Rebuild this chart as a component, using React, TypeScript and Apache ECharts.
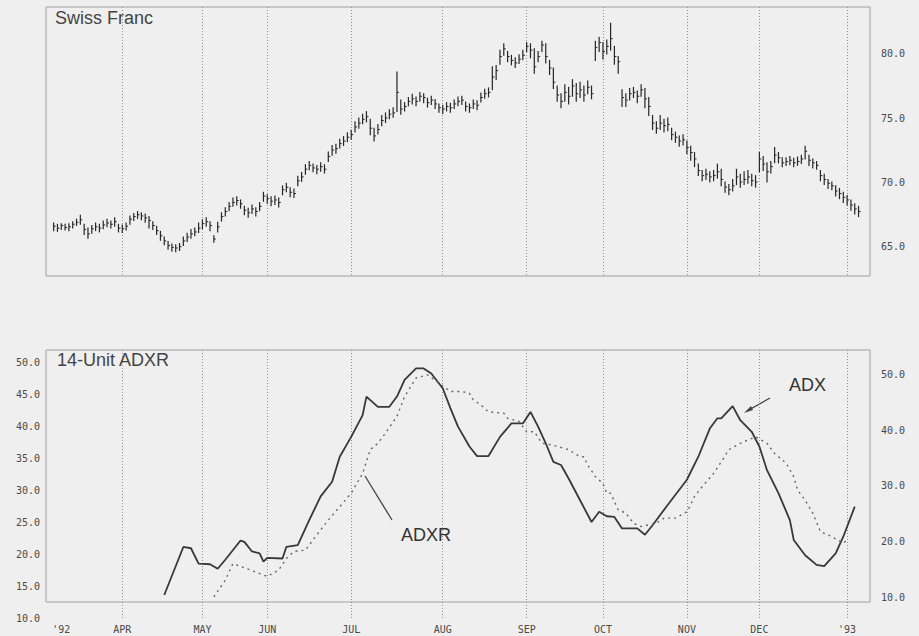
import React, { useEffect, useRef } from 'react';
import * as echarts from 'echarts';

// ---- x axis: trading days (index 0..216) ----
const N_DAYS = 217;
const dayCategories: string[] = Array.from({ length: N_DAYS }, (_, i) => String(i));
const monthMarks = [
  { idx: 4, label: "'92", line: false },
  { idx: 20, label: 'APR', line: true },
  { idx: 41, label: 'MAY', line: true },
  { idx: 58, label: 'JUN', line: true },
  { idx: 80, label: 'JUL', line: true },
  { idx: 104, label: 'AUG', line: true },
  { idx: 126, label: 'SEP', line: true },
  { idx: 146, label: 'OCT', line: true },
  { idx: 168, label: 'NOV', line: true },
  { idx: 187, label: 'DEC', line: true },
  { idx: 210, label: "'93", line: true },
];

// ---- Swiss Franc daily bars (first bar at day index 2) ----
const FIRST_BAR = 2;
const highs = [
  66.80, 66.70, 66.75, 66.70, 66.75, 66.90, 67.10, 67.40, 66.70, 66.40,
  66.60, 66.80, 66.70, 66.95, 67.10, 66.95, 67.20, 66.70, 66.65, 66.80,
  67.35, 67.55, 67.70, 67.60, 67.50, 67.30, 66.90, 66.55, 66.15, 65.70,
  65.35, 65.15, 65.10, 65.20, 65.70, 66.00, 66.30, 66.40, 66.80, 67.05,
  67.20, 66.90, 65.80, 66.85, 67.60, 68.00, 68.40, 68.75, 68.85, 68.60,
  68.10, 67.95, 68.20, 68.00, 68.40, 69.20, 69.00, 68.85, 68.90, 68.75,
  69.70, 69.90, 69.55, 69.45, 70.45, 70.75, 71.35, 71.60, 71.40, 71.30,
  71.50, 71.35, 72.35, 72.85, 72.95, 73.35, 73.55, 73.85, 74.05, 74.70,
  75.00, 75.30, 75.50, 74.90, 74.20, 74.50, 75.20, 75.40, 75.65, 75.80,
  78.60, 76.40, 76.20, 76.60, 76.85, 76.65, 77.00, 76.90, 76.55, 76.70,
  76.45, 76.10, 76.00, 76.20, 76.15, 76.40, 76.65, 76.70, 76.25, 76.10,
  76.40, 76.35, 76.95, 77.25, 77.35, 79.00, 79.10, 80.30, 80.80, 80.20,
  79.90, 79.70, 79.95, 80.30, 80.90, 80.80, 80.40, 80.20, 81.00, 80.80,
  79.50, 78.90, 77.50, 76.90, 77.60, 77.40, 78.00, 77.70, 77.80, 77.50,
  77.90, 77.50, 81.00, 81.30, 80.90, 81.10, 82.40, 80.60, 79.80, 77.20,
  76.90, 77.30, 77.40, 77.10, 77.60, 77.30, 76.60, 75.20, 74.70, 75.20,
  74.90, 75.00, 74.20, 73.90, 73.60, 73.70, 73.20, 72.80, 72.30, 71.40,
  70.90, 71.00, 70.80, 70.90, 71.40, 71.00, 70.00, 69.80, 70.20, 71.00,
  70.60, 70.80, 70.90, 70.60, 70.50, 72.30, 72.00, 71.50, 71.60, 72.70,
  72.30, 71.90, 71.90, 72.00, 71.85, 71.95, 72.10, 72.80, 72.10, 71.80,
  71.60, 70.90, 70.60, 70.20, 70.00, 69.70, 69.50, 69.20, 68.95, 68.60,
  68.30, 68.10,
];
const lows = [
  66.20, 66.15, 66.30, 66.25, 66.20, 66.40, 66.60, 66.70, 65.90, 65.60,
  66.00, 66.20, 66.10, 66.35, 66.50, 66.40, 66.55, 66.10, 66.05, 66.25,
  66.70, 67.00, 67.15, 67.05, 66.85, 66.40, 66.30, 65.90, 65.45, 65.10,
  64.75, 64.60, 64.55, 64.65, 65.05, 65.35, 65.60, 65.80, 66.05, 66.35,
  66.55, 66.20, 65.30, 66.10, 66.95, 67.35, 67.75, 68.10, 68.20, 67.95,
  67.45, 67.25, 67.55, 67.35, 67.75, 68.50, 68.35, 68.15, 68.25, 68.05,
  69.00, 69.25, 68.85, 68.80, 69.70, 70.05, 70.60, 70.95, 70.80, 70.65,
  70.85, 70.70, 71.60, 72.10, 72.25, 72.65, 72.85, 73.15, 73.35, 73.90,
  74.20, 74.55, 74.70, 73.70, 73.20, 73.75, 74.40, 74.65, 74.95, 75.05,
  75.50, 75.30, 75.55, 75.95, 76.10, 75.95, 76.30, 76.20, 75.85, 76.05,
  75.75, 75.45, 75.35, 75.55, 75.45, 75.75, 75.95, 76.05, 75.55, 75.45,
  75.75, 75.65, 76.25, 76.55, 76.65, 77.20, 78.00, 79.20, 79.90, 79.40,
  79.15, 78.95, 79.25, 79.55, 80.20, 79.70, 78.50, 79.40, 80.20, 79.30,
  78.40, 77.30, 76.30, 75.80, 76.30, 76.10, 76.70, 76.30, 76.60, 76.30,
  76.90, 76.50, 79.50, 80.20, 79.60, 80.00, 80.30, 79.20, 78.50, 75.90,
  75.90, 76.40, 76.60, 76.20, 76.70, 75.80, 75.20, 74.10, 73.80, 74.10,
  73.90, 74.00, 73.30, 73.10, 72.80, 72.90, 72.20, 71.70, 71.20, 70.50,
  70.10, 70.20, 70.00, 70.10, 70.30, 69.70, 69.20, 69.00, 69.30, 69.80,
  69.60, 69.80, 69.90, 69.70, 69.60, 70.80, 70.90, 70.00, 70.70, 71.50,
  71.50, 71.20, 71.30, 71.35, 71.20, 71.30, 71.45, 71.80, 71.30, 71.10,
  71.00, 70.10, 69.80, 69.50, 69.40, 68.90, 68.70, 68.40, 68.20, 67.80,
  67.50, 67.30,
];
const closes = [
  66.55, 66.40, 66.60, 66.45, 66.50, 66.70, 66.85, 67.05, 66.30, 65.95,
  66.35, 66.50, 66.40, 66.65, 66.80, 66.70, 66.90, 66.40, 66.35, 66.55,
  67.10, 67.30, 67.45, 67.35, 67.20, 67.00, 66.60, 66.20, 65.80, 65.40,
  65.05, 64.90, 64.85, 64.95, 65.40, 65.70, 65.95, 66.10, 66.40, 66.75,
  66.90, 66.60, 65.55, 66.50, 67.30, 67.70, 68.10, 68.40, 68.55, 68.30,
  67.80, 67.60, 67.90, 67.70, 68.10, 68.90, 68.70, 68.50, 68.60, 68.40,
  69.40, 69.60, 69.20, 69.10, 70.10, 70.40, 71.00, 71.30, 71.10, 71.00,
  71.20, 71.00, 72.00, 72.50, 72.60, 73.00, 73.20, 73.50, 73.70, 74.30,
  74.60, 74.90, 75.10, 74.20, 73.60, 74.10, 74.80, 75.00, 75.30, 75.40,
  77.00, 75.70, 75.90, 76.30, 76.50, 76.30, 76.70, 76.60, 76.20, 76.40,
  76.10, 75.80, 75.70, 75.90, 75.80, 76.10, 76.30, 76.40, 75.90, 75.80,
  76.10, 76.00, 76.60, 76.90, 77.00, 78.20, 78.70, 79.80, 80.40, 79.80,
  79.50, 79.30, 79.60, 79.90, 80.60, 80.30, 79.00, 79.80, 80.70, 79.80,
  78.90, 77.80, 76.80, 76.30, 77.00, 76.70, 77.50, 76.90, 77.20, 76.80,
  77.40, 76.90, 80.50, 80.90, 80.20, 80.60, 81.20, 79.80, 79.40, 76.60,
  76.40, 76.90, 77.00, 76.70, 77.20, 76.50, 75.90, 74.60, 74.20, 74.60,
  74.40, 74.50, 73.70, 73.50, 73.20, 73.30, 72.70, 72.30, 71.80, 70.90,
  70.50, 70.60, 70.40, 70.50, 70.80, 70.20, 69.60, 69.40, 69.70, 70.40,
  70.00, 70.20, 70.40, 70.10, 70.00, 71.80, 71.40, 70.80, 71.20, 72.10,
  71.90, 71.50, 71.60, 71.70, 71.50, 71.60, 71.80, 72.40, 71.70, 71.50,
  71.30, 70.50, 70.20, 69.90, 69.70, 69.30, 69.10, 68.80, 68.60, 68.20,
  67.90, 67.70,
];
const priceTicks = [65, 70, 75, 80];

// ---- 14-unit ADX / ADXR: [day index, value] ----
const adx: [number, number][] = [
  [31, 13.6], [36, 21.1], [38, 20.9], [40, 18.5], [43, 18.4], [45, 17.7], [47, 19.1],
  [51, 22.1], [52, 21.9], [54, 20.4], [56, 20.1], [57, 18.8], [58, 19.4], [62, 19.3],
  [63, 21.1], [66, 21.4], [69, 25.3], [72, 29.0], [75, 31.3], [77, 35.2], [80, 38.3],
  [83, 41.7], [84, 44.6], [87, 43.0], [90, 43.0], [92, 44.6], [94, 47.2], [97, 49.0],
  [99, 49.0], [101, 48.2], [104, 45.9], [106, 42.8], [108, 39.9], [111, 36.8],
  [113, 35.3], [116, 35.3], [119, 38.3], [122, 40.4], [125, 40.4], [127, 42.2],
  [129, 39.9], [131, 37.3], [133, 34.4], [135, 33.9], [137, 31.8], [140, 28.4],
  [143, 25.0], [145, 26.6], [147, 25.9], [149, 25.8], [151, 24.0], [155, 24.0],
  [157, 23.0], [159, 24.5], [163, 27.7], [168, 31.6], [171, 35.2], [174, 39.6],
  [176, 41.2], [177, 41.2], [180, 43.1], [182, 40.9], [185, 39.1], [187, 36.8],
  [189, 33.1], [192, 29.5], [195, 25.3], [196, 22.2], [199, 19.8], [202, 18.3],
  [204, 18.1], [207, 20.1], [209, 22.7], [212, 27.4],
];
const adxr: [number, number][] = [
  [44, 13.3], [47, 15.9], [49, 18.5], [54, 17.4], [58, 16.5], [61, 17.5], [63, 19.3],
  [65, 20.4], [68, 20.6], [71, 23.0], [74, 25.3], [77, 27.4], [80, 29.5], [83, 32.6],
  [85, 36.3], [87, 37.3], [89, 38.9], [92, 41.5], [94, 44.6], [97, 47.5], [100, 48.0],
  [103, 46.7], [106, 45.4], [109, 45.4], [111, 45.1], [112, 44.1], [114, 43.3],
  [116, 42.2], [120, 42.0], [121, 41.2], [124, 40.7], [126, 39.1], [128, 39.1],
  [130, 37.3], [133, 37.0], [137, 36.3], [140, 35.2], [141, 35.2], [142, 33.9],
  [144, 32.1], [146, 31.0], [147, 29.5], [148, 29.5], [150, 26.9], [152, 26.4],
  [154, 24.8], [156, 24.3], [160, 24.8], [162, 25.6], [165, 25.6], [168, 26.6],
  [169, 27.7], [170, 29.0], [172, 30.5], [175, 32.6], [177, 34.4], [179, 36.3],
  [182, 37.3], [184, 37.8], [186, 38.3], [189, 37.3], [191, 35.7], [194, 34.2],
  [196, 32.1], [197, 30.0], [199, 28.4], [201, 26.4], [203, 23.5], [206, 22.7],
  [209, 21.7], [210, 22.2],
];

const labelMap = new Map<number, string>(monthMarks.map((m) => [m.idx, m.label]));
const gridLineSet = new Set<number>(monthMarks.filter((m) => m.line).map((m) => m.idx));

const MONO = "'DejaVu Sans Mono', monospace";
const SANS = "'Liberation Sans', Arial, sans-serif";

export default function App() {
  const ref = useRef<HTMLDivElement>(null);
  useEffect(() => {
    if (!ref.current) return;
    const chart = echarts.init(ref.current, undefined, { renderer: 'svg' });
    const bars = closes.map((c, k) => [FIRST_BAR + k, highs[k], lows[k], c]);
    const splitStyle = { color: '#8e8e8e', type: [1, 2] as number[], width: 1 };
    const axisLabelStyle = { fontFamily: MONO, fontSize: 10, color: '#4a4a4a' };

    chart.setOption({
      animation: false,
      backgroundColor: '#efefef',
      title: [
        { text: 'Swiss Franc', left: 55, top: 9, padding: 0,
          textStyle: { fontFamily: SANS, fontSize: 18, fontWeight: 'normal', color: '#444' } },
        { text: '14-Unit ADXR', left: 57, top: 351, padding: 0,
          textStyle: { fontFamily: SANS, fontSize: 18, fontWeight: 'normal', color: '#444' } },
      ],
      grid: [
        { left: 46, top: 7, width: 824, height: 269, show: true, borderColor: '#a0a0a0', borderWidth: 1 },
        { left: 46, top: 350, width: 824, height: 268, show: false },
        { left: 46, top: 350, width: 824, height: 252, show: true, borderColor: '#a0a0a0', borderWidth: 1 },
      ],
      xAxis: [
        {
          gridIndex: 0, type: 'category', data: dayCategories, boundaryGap: false,
          axisLine: { show: false }, axisTick: { show: false }, axisLabel: { show: false },
          splitLine: { show: true, interval: (i: number) => gridLineSet.has(i), lineStyle: splitStyle },
        },
        {
          gridIndex: 1, type: 'category', data: dayCategories, boundaryGap: false,
          axisLine: { show: false }, axisTick: { show: false },
          axisLabel: {
            show: true, margin: 6, ...axisLabelStyle,
            interval: (i: number) => labelMap.has(i),
            formatter: (v: string) => labelMap.get(Number(v)) ?? '',
          },
          splitLine: { show: true, interval: (i: number) => gridLineSet.has(i), lineStyle: splitStyle },
        },
        { gridIndex: 2, type: 'value', show: false, min: 0, max: 1 },
      ],
      yAxis: [
        {
          gridIndex: 0, type: 'value', position: 'right', min: 62.66, max: 83.67, scale: true,
          axisLine: { show: false }, axisTick: { show: false }, splitLine: { show: false },
          axisLabel: {
            margin: 11, ...axisLabelStyle, showMinLabel: false, showMaxLabel: false,
            formatter: (v: number) => (priceTicks.includes(Math.round(v * 100) / 100) ? v.toFixed(1) : ''),
          },
        },
        {
          gridIndex: 1, type: 'value', position: 'left', min: 10, max: 51.875, interval: 5,
          axisLine: { show: false }, axisTick: { show: false }, splitLine: { show: false },
          axisLabel: {
            margin: 6, ...axisLabelStyle, showMaxLabel: false,
            formatter: (v: number) => (Math.abs(v % 5) < 1e-6 ? v.toFixed(1) : ''),
          },
        },
        {
          gridIndex: 2, type: 'value', position: 'right', min: 9.1, max: 54.5,
          axisLine: { show: false }, axisTick: { show: false }, splitLine: { show: false },
          axisLabel: {
            margin: 11, ...axisLabelStyle, showMinLabel: false, showMaxLabel: false,
            formatter: (v: number) => (Math.abs(v % 10) < 1e-6 ? v.toFixed(1) : ''),
          },
        },
      ],
      series: [
        {
          type: 'custom', name: 'Swiss Franc', xAxisIndex: 0, yAxisIndex: 0,
          encode: { x: 0, y: [1, 2, 3] },
          data: bars,
          renderItem: (params: any, api: any) => {
            const x = api.value(0);
            const hi = api.coord([x, api.value(1)]);
            const lo = api.coord([x, api.value(2)]);
            const cl = api.coord([x, api.value(3)]);
            return {
              type: 'group',
              children: [
                { type: 'line', shape: { x1: hi[0], y1: hi[1] - 0.5, x2: lo[0], y2: lo[1] + 0.5 },
                  style: { stroke: '#262626', lineWidth: 1.2 } },
                { type: 'line', shape: { x1: cl[0], y1: cl[1], x2: cl[0] + 2, y2: cl[1] },
                  style: { stroke: '#262626', lineWidth: 1 } },
              ],
            };
          },
        },
        {
          type: 'line', name: 'ADX', xAxisIndex: 1, yAxisIndex: 1, data: adx,
          showSymbol: false, symbol: 'none',
          lineStyle: { color: '#383838', width: 1.8 },
        },
        {
          type: 'line', name: 'ADXR', xAxisIndex: 1, yAxisIndex: 1, data: adxr,
          showSymbol: false, symbol: 'none',
          lineStyle: { color: '#666', width: 1.4, type: [2, 4] },
        },
      ],
      graphic: [
        { type: 'text', left: 789, top: 376,
          style: { text: 'ADX', fontFamily: SANS, fontSize: 18, fill: '#333' } },
        { type: 'line', shape: { x1: 770, y1: 398, x2: 747, y2: 411 },
          style: { stroke: '#444', lineWidth: 1.3 } },
        { type: 'polygon', shape: { points: [[744, 413], [751, 406], [753, 410]] },
          style: { fill: '#444' } },
        { type: 'text', left: 401, top: 526,
          style: { text: 'ADXR', fontFamily: SANS, fontSize: 18, fill: '#333' } },
        { type: 'line', shape: { x1: 365, y1: 476, x2: 392, y2: 520 },
          style: { stroke: '#444', lineWidth: 1.3 } },
      ],
    });
    return () => chart.dispose();
  }, []);

  return (
    <div
      ref={ref}
      style={{ position: 'fixed', left: 0, top: 0, width: 919, height: 636 }}
    />
  );
}
